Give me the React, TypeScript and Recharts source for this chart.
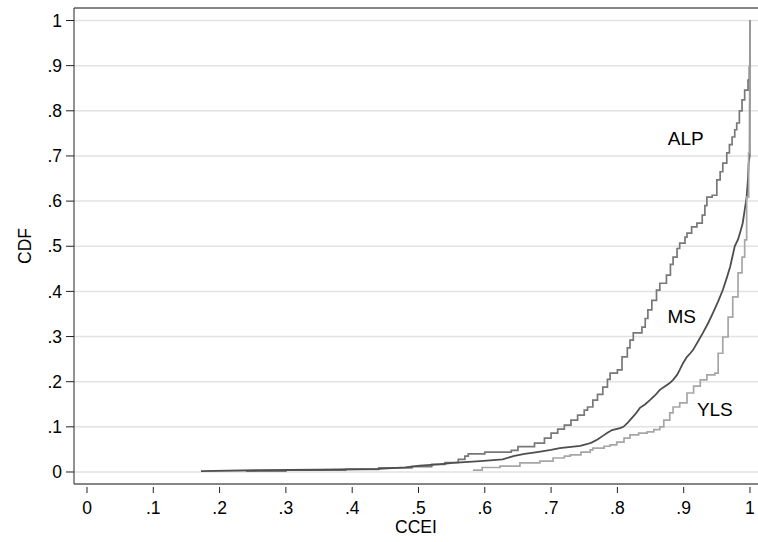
import { LineChart, Line, XAxis, YAxis, CartesianGrid, ReferenceLine, ReferenceDot } from "recharts";

const alpX = [0.24, 0.3, 0.39, 0.44, 0.49, 0.52, 0.54, 0.56, 0.57, 0.575, 0.6, 0.64, 0.65, 0.675, 0.69, 0.7, 0.71, 0.72, 0.73, 0.74, 0.75, 0.755, 0.763, 0.77, 0.778, 0.785, 0.789, 0.8, 0.807, 0.815, 0.819, 0.824, 0.837, 0.842, 0.846, 0.852, 0.859, 0.864, 0.874, 0.88, 0.884, 0.89, 0.894, 0.902, 0.905, 0.912, 0.92, 0.928, 0.932, 0.935, 0.943, 0.95, 0.955, 0.959, 0.965, 0.969, 0.973, 0.977, 0.98, 0.984, 0.988, 0.992, 0.997, 0.999, 1];
const alpY = [0.002, 0.004, 0.006, 0.009, 0.012, 0.017, 0.021, 0.028, 0.035, 0.04, 0.044, 0.048, 0.056, 0.064, 0.075, 0.086, 0.095, 0.104, 0.115, 0.126, 0.137, 0.144, 0.159, 0.172, 0.188, 0.205, 0.219, 0.226, 0.255, 0.275, 0.292, 0.308, 0.321, 0.34, 0.359, 0.38, 0.403, 0.418, 0.436, 0.46, 0.476, 0.495, 0.507, 0.52, 0.529, 0.543, 0.551, 0.569, 0.59, 0.609, 0.613, 0.647, 0.665, 0.684, 0.707, 0.725, 0.742, 0.758, 0.773, 0.8, 0.824, 0.846, 0.868, 0.897, 1];

const msX = [0.172, 0.26, 0.35, 0.44, 0.48, 0.502, 0.53, 0.552, 0.593, 0.627, 0.643, 0.66, 0.679, 0.7, 0.713, 0.744, 0.755, 0.761, 0.77, 0.778, 0.785, 0.792, 0.804, 0.809, 0.815, 0.819, 0.827, 0.834, 0.842, 0.849, 0.857, 0.864, 0.872, 0.879, 0.884, 0.89, 0.894, 0.899, 0.905, 0.91, 0.914, 0.922, 0.929, 0.937, 0.944, 0.952, 0.959, 0.965, 0.97, 0.974, 0.977, 0.982, 0.986, 0.989, 0.992, 0.995, 0.997, 0.998, 0.9995, 1];
const msY = [0.002, 0.004, 0.005, 0.007, 0.01, 0.014, 0.017, 0.02, 0.024, 0.028, 0.035, 0.04, 0.044, 0.049, 0.053, 0.058, 0.062, 0.065, 0.072, 0.08, 0.087, 0.093, 0.097, 0.1, 0.108, 0.115, 0.128, 0.142, 0.15, 0.159, 0.17, 0.182, 0.19, 0.197, 0.204, 0.215, 0.226, 0.241, 0.255, 0.263, 0.27, 0.29, 0.308, 0.33, 0.352, 0.378, 0.403, 0.43, 0.454, 0.48, 0.5, 0.515, 0.535, 0.551, 0.58, 0.609, 0.65, 0.684, 0.7, 1];

const ylsX = [0.582, 0.596, 0.623, 0.653, 0.683, 0.703, 0.72, 0.729, 0.745, 0.759, 0.763, 0.78, 0.789, 0.799, 0.81, 0.819, 0.832, 0.845, 0.855, 0.864, 0.87, 0.879, 0.884, 0.894, 0.905, 0.915, 0.925, 0.935, 0.947, 0.952, 0.959, 0.967, 0.974, 0.982, 0.988, 0.992, 0.995, 0.998, 1];
const ylsY = [0.004, 0.01, 0.013, 0.02, 0.024, 0.031, 0.035, 0.038, 0.044, 0.049, 0.053, 0.057, 0.06, 0.066, 0.075, 0.082, 0.086, 0.089, 0.094, 0.1, 0.115, 0.131, 0.144, 0.153, 0.175, 0.19, 0.204, 0.215, 0.219, 0.263, 0.299, 0.343, 0.388, 0.441, 0.476, 0.514, 0.609, 0.707, 1];

const xTicks = [0, 0.1, 0.2, 0.3, 0.4, 0.5, 0.6, 0.7, 0.8, 0.9, 1];
const yTicks = [0, 0.1, 0.2, 0.3, 0.4, 0.5, 0.6, 0.7, 0.8, 0.9, 1];

const X_DOMAIN: [number, number] = [-0.0196, 1.0121];
const Y_DOMAIN: [number, number] = [-0.0266, 1.0277];

const FONT = "'Liberation Sans', Arial, Helvetica, sans-serif";
const FS = 17.5;

const toPoints = (xs: number[], ys: number[]) => xs.map((x, i) => ({ x, y: ys[i] }));

const fmt = (v: number) => {
  if (v === 0) return "0";
  if (v === 1) return "1";
  return String(v).replace(/^0/, "");
};

const XTick = (props: any) => {
  const { x, y, payload } = props;
  return (
    <g>
      <line x1={x} x2={x} y1={y + 3} y2={y + 9} stroke="#222" strokeWidth={1} />
      <text x={x} y={y + 24} dy="0.355em" textAnchor="middle" fontSize={FS} fontFamily={FONT} fill="#000">
        {fmt(payload.value)}
      </text>
    </g>
  );
};

export default function App() {
  const series = [
    { name: "ALP", data: toPoints(alpX, alpY), color: "#787878", width: 1.7, curve: "stepAfter" as const },
    { name: "MS", data: toPoints(msX, msY), color: "#4e4e4e", width: 1.8, curve: "linear" as const },
    { name: "YLS", data: toPoints(ylsX, ylsY), color: "#a6a6a6", width: 1.7, curve: "stepAfter" as const },
  ];

  return (
    <div style={{ position: "absolute", left: 0, top: 0 }}>
      <LineChart width={758} height={542} margin={{ top: 8, right: 0, bottom: 0, left: 0 }} style={{ fontFamily: FONT }}>
        <CartesianGrid vertical={false} stroke="#e2e2e2" strokeWidth={1.5} />
        <XAxis
          type="number"
          dataKey="x"
          domain={X_DOMAIN}
          allowDataOverflow
          ticks={xTicks}
          interval={0}
          height={58}
          tickSize={0}
          tickMargin={0}
          tickLine={false}
          axisLine={{ stroke: "#222" }}
          tick={<XTick />}
          label={{
            content: (p: any) => {
              const vb = p.viewBox;
              return (
                <text x={vb.x + vb.width / 2} y={vb.y + 43} dy="0.355em" textAnchor="middle" fontSize={FS} fontFamily={FONT} fill="#000">
                  CCEI
                </text>
              );
            },
          }}
        />
        <YAxis
          type="number"
          domain={Y_DOMAIN}
          allowDataOverflow
          ticks={yTicks}
          interval={0}
          width={74}
          tickSize={8}
          tickMargin={4}
          tickLine={{ stroke: "#222" }}
          axisLine={{ stroke: "#222" }}
          tick={{ fontSize: FS, fill: "#000", fontFamily: FONT }}
          tickFormatter={fmt}
          label={{
            content: (p: any) => {
              const vb = p.viewBox;
              const cx = 25;
              const cy = vb.y + vb.height / 2;
              return (
                <text x={cx} y={cy} dy="0.355em" textAnchor="middle" fontSize={FS} fontFamily={FONT} fill="#000" transform={`rotate(-90 ${cx} ${cy})`}>
                  CDF
                </text>
              );
            },
          }}
        />
        <ReferenceLine y={Y_DOMAIN[1]} stroke="#222" />
        {series.map((s) => (
          <Line
            key={s.name}
            data={s.data}
            dataKey="y"
            type={s.curve}
            stroke={s.color}
            strokeWidth={s.width}
            dot={false}
            activeDot={false}
            isAnimationActive={false}
          />
        ))}
        <ReferenceDot x={0.903} y={0.74} r={0} label={{ value: "ALP", position: "center", fontSize: 19, fill: "#000", fontFamily: FONT }} />
        <ReferenceDot x={0.897} y={0.345} r={0} label={{ value: "MS", position: "center", fontSize: 19, fill: "#000", fontFamily: FONT }} />
        <ReferenceDot x={0.947} y={0.138} r={0} label={{ value: "YLS", position: "center", fontSize: 19, fill: "#000", fontFamily: FONT }} />
      </LineChart>
    </div>
  );
}
